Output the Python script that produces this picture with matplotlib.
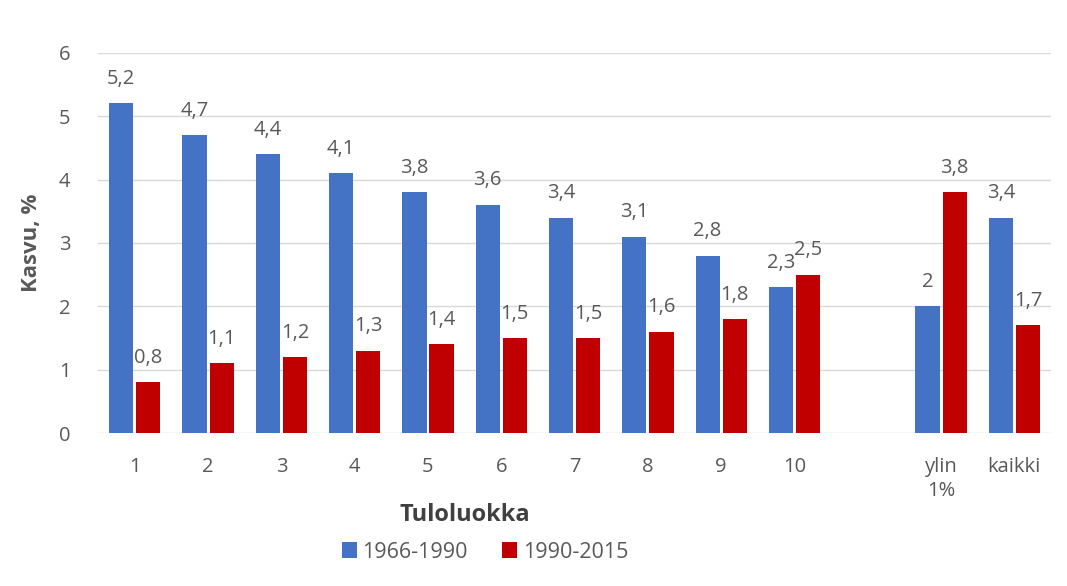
import matplotlib.pyplot as plt
import numpy as np

# tulot / kasvu per tuloluokka
luokat = ['1', '2', '3', '4', '5', '6', '7', '8', '9', '10', '', 'ylin\n1%', 'kaikki']
kasvu_1966_1990 = [5.2, 4.7, 4.4, 4.1, 3.8, 3.6, 3.4, 3.1, 2.8, 2.3, None, 2.0, 3.4]
kasvu_1990_2015 = [0.8, 1.1, 1.2, 1.3, 1.4, 1.5, 1.5, 1.6, 1.8, 2.5, None, 3.8, 1.7]
sarjat = ['1966-1990', '1990-2015']

sininen = '#4472C4'
punainen = '#C00000'
harmaa = '#595959'

plt.rcParams['font.family'] = ['Open Sans', 'DejaVu Sans']

fig = plt.figure(figsize=(10.67, 5.86), dpi=100)
ax = fig.add_axes([0.092, 0.261, 0.893, 0.649])

x = np.arange(len(luokat))
w = 0.33
d = 0.185

def arvot(lista):
    return [np.nan if v is None else v for v in lista]

b1 = ax.bar(x - d, arvot(kasvu_1966_1990), w, color=sininen, label=sarjat[0], zorder=3)
b2 = ax.bar(x + d, arvot(kasvu_1990_2015), w, color=punainen, label=sarjat[1], zorder=3)

# arvot pylväiden päälle, pilkku desimaalierottimena
for palkit, data in [(b1, kasvu_1966_1990), (b2, kasvu_1990_2015)]:
    for p, v in zip(palkit, data):
        if v is None:
            continue
        teksti = ('%g' % v).replace('.', ',')
        ax.annotate(teksti, (p.get_x() + p.get_width() / 2, v), xytext=(0, 14),
                    textcoords='offset points', ha='center', va='baseline',
                    fontsize=14.5, color=harmaa)

ax.set_xlim(-0.5, len(luokat) - 0.5)
ax.set_ylim(0, 6)
ax.set_yticks(range(0, 7))
ax.set_xticks(x)
ax.set_xticklabels(luokat, va='top', linespacing=1.3)
ax.tick_params(axis='both', length=0, labelsize=14.5, colors=harmaa)
ax.tick_params(axis='y', pad=20)
ax.tick_params(axis='x', pad=17)
ax.grid(axis='y', color='#D9D9D9', linewidth=1, zorder=0)
for s in ax.spines.values():
    s.set_visible(False)

ax.set_ylabel('Kasvu, %', fontsize=16, fontweight='bold', color=harmaa, labelpad=12)
# x-akselin otsikko keskitetty luokkien 1-10 alle
ax.text(4.5, -1.3, 'Tuloluokka', ha='center', va='center',
        fontsize=17, fontweight='bold', color='#404040')

ax.legend(loc='center', bbox_to_anchor=(485 / 1067, 1 - 552 / 586), bbox_transform=fig.transFigure,
          ncol=2, frameon=False, fontsize=15.5, handlelength=0.7, handleheight=0.7,
          handletextpad=0.25, columnspacing=1.6, labelcolor=harmaa)

fig.savefig('out.png', dpi=100)
